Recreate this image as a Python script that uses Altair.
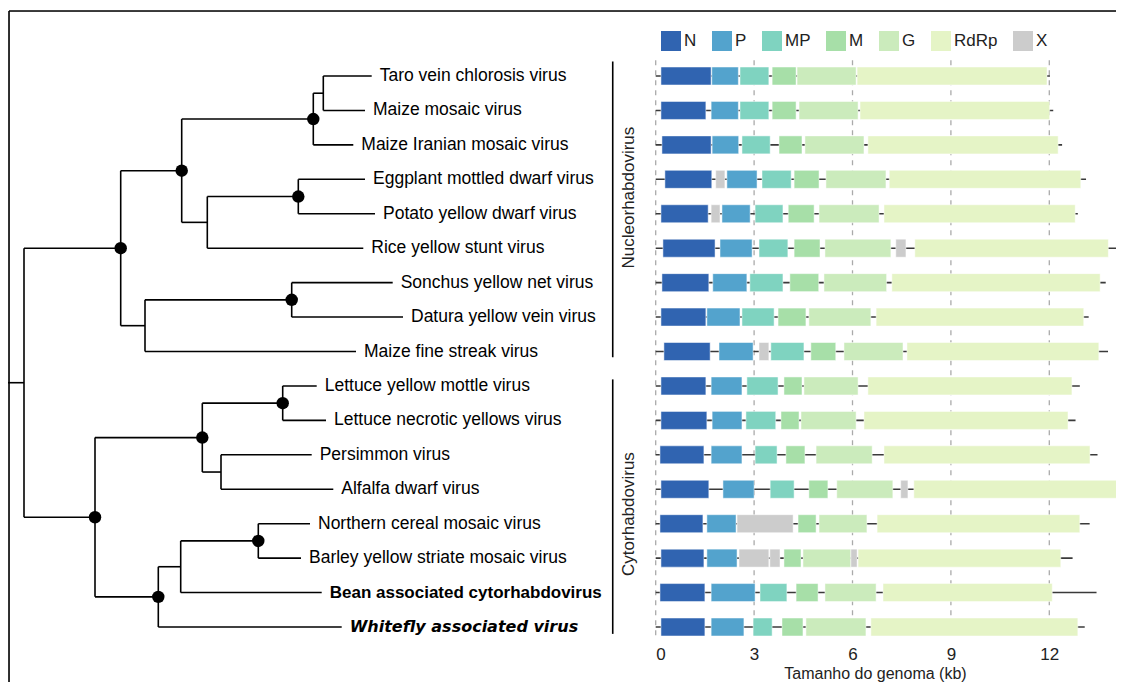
import altair as alt
import pandas as pd

# ---------------- data ----------------
TIPS = [
    "Taro vein chlorosis virus", "Maize mosaic virus", "Maize Iranian mosaic virus",
    "Eggplant mottled dwarf virus", "Potato yellow dwarf virus", "Rice yellow stunt virus",
    "Sonchus yellow net virus", "Datura yellow vein virus", "Maize fine streak virus",
    "Lettuce yellow mottle virus", "Lettuce necrotic yellows virus", "Persimmon virus",
    "Alfalfa dwarf virus", "Northern cereal mosaic virus", "Barley yellow striate mosaic virus",
    "Bean associated cytorhabdovirus", "Whitefly associated virus",
]
TIP_PARENT = ["F", "F", "D", "G", "G", "E", "H", "H", "C", "L", "L", "M", "M", "O", "O", "N", "K"]
TIP_DEPTH = [3.477, 3.41, 3.293, 3.41, 3.51, 3.393, 3.687, 3.79, 3.32,
             2.927, 3.02, 2.877, 3.093, 2.86, 2.77, 2.977, 3.177]

NODE_NAMES = ["root", "A", "B", "D", "F", "E", "G", "C", "H", "I", "J", "L", "M", "K", "N", "O"]
NODE_PARENT = [None, "root", "A", "B", "D", "B", "E", "A", "C", "root", "I", "J", "J", "I", "K", "N"]
NODE_DEPTH = [0.0, 0.967, 1.577, 2.893, 2.993, 1.833, 2.743, 1.21, 2.677,
              0.71, 1.783, 2.587, 1.97, 1.343, 1.567, 2.343]
SUPPORTED = ["A", "B", "D", "G", "H", "I", "J", "L", "K", "O"]
ROOT_STEM = -0.16

GENOME_LEN = [12.02, 12.12, 12.39, 13.12, 12.87, 14.05, 13.72, 13.20, 13.79,
              12.93, 12.80, 13.47, 14.40, 13.23, 12.71, 13.44, 13.08]

GENE_ORDER = ["N", "P", "MP", "M", "G", "RdRp", "X"]
GENE_COLORS = ["#3064b1", "#53a3cd", "#7fd3c0", "#a7dfa8", "#cbebbc", "#e5f4c6", "#cccccc"]

ORF_GENES = [
    ["N", "P", "MP", "M", "G", "RdRp"],
    ["N", "P", "MP", "M", "G", "RdRp"],
    ["N", "P", "MP", "M", "G", "RdRp"],
    ["N", "X", "P", "MP", "M", "G", "RdRp"],
    ["N", "X", "P", "MP", "M", "G", "RdRp"],
    ["N", "P", "MP", "M", "G", "X", "RdRp"],
    ["N", "P", "MP", "M", "G", "RdRp"],
    ["N", "P", "MP", "M", "G", "RdRp"],
    ["N", "P", "X", "MP", "M", "G", "RdRp"],
    ["N", "P", "MP", "M", "G", "RdRp"],
    ["N", "P", "MP", "M", "G", "RdRp"],
    ["N", "P", "MP", "M", "G", "RdRp"],
    ["N", "P", "MP", "M", "G", "X", "RdRp"],
    ["N", "P", "X", "M", "G", "RdRp"],
    ["N", "P", "X", "X", "M", "G", "X", "RdRp"],
    ["N", "P", "MP", "M", "G", "RdRp"],
    ["N", "P", "MP", "M", "G", "RdRp"],
]
ORF_START = [
    [0.16, 1.71, 2.57, 3.55, 4.31, 6.14],
    [0.16, 1.69, 2.57, 3.55, 4.37, 6.23],
    [0.19, 1.72, 2.63, 3.76, 4.55, 6.47],
    [0.28, 1.83, 2.17, 3.24, 4.22, 5.19, 7.12],
    [0.16, 1.69, 2.02, 3.03, 4.04, 4.98, 6.96],
    [0.22, 1.96, 3.15, 4.22, 5.16, 7.32, 7.90],
    [0.19, 1.74, 2.87, 4.09, 5.13, 7.20],
    [0.16, 1.56, 2.63, 3.73, 4.67, 6.72],
    [0.25, 1.93, 3.15, 3.51, 4.73, 5.74, 7.66],
    [0.16, 1.69, 2.78, 3.91, 4.52, 6.47],
    [0.16, 1.72, 2.75, 3.82, 4.43, 6.35],
    [0.13, 1.69, 3.03, 3.97, 4.89, 6.96],
    [0.16, 2.05, 3.49, 4.67, 5.52, 7.47, 7.87],
    [0.13, 1.56, 2.48, 4.34, 4.98, 6.75],
    [0.16, 1.56, 2.54, 3.48, 3.91, 4.49, 5.95, 6.17],
    [0.13, 1.69, 3.18, 4.28, 5.16, 6.93],
    [0.16, 1.69, 2.97, 3.85, 4.58, 6.56],
]
ORF_END = [
    [1.69, 2.52, 3.45, 4.28, 6.11, 11.93],
    [1.53, 2.52, 3.45, 4.28, 6.17, 12.01],
    [1.69, 2.53, 3.49, 4.46, 6.35, 12.27],
    [1.71, 2.11, 3.09, 4.13, 4.98, 7.02, 12.96],
    [1.60, 1.96, 2.88, 3.88, 4.83, 6.81, 12.79],
    [1.81, 2.94, 4.03, 5.01, 7.17, 7.63, 13.80],
    [1.62, 2.78, 3.88, 4.97, 7.04, 13.55],
    [1.53, 2.57, 3.61, 4.58, 6.56, 13.05],
    [1.66, 2.97, 3.45, 4.52, 5.49, 7.54, 13.51],
    [1.53, 2.63, 3.73, 4.46, 6.17, 12.69],
    [1.56, 2.63, 3.66, 4.37, 6.11, 12.57],
    [1.47, 2.63, 3.70, 4.55, 6.60, 13.24],
    [1.62, 3.00, 4.22, 5.25, 7.23, 7.69, 14.16],
    [1.44, 2.45, 4.19, 4.89, 6.44, 12.93],
    [1.47, 2.48, 3.45, 3.79, 4.43, 5.95, 6.14, 12.35],
    [1.50, 3.03, 4.00, 4.95, 6.72, 12.09],
    [1.50, 2.69, 3.55, 4.49, 6.41, 12.87],
]

GROUPS = ["Nucleorhabdovirus", "Cytorhabdovirus"]
GROUP_TOP = [-0.42, 8.81]
GROUP_BOTTOM = [8.17, 16.2]
GROUP_LABEL_ROW = [3.53, 12.72]
KB_TICKS = [0, 3, 6, 9, 12]
GRID_TOP, GRID_BOTTOM = -0.46, 16.38

# ---------------- tree layout (y from tip order) ----------------
children = {n: [] for n in NODE_NAMES}
depth = dict(zip(NODE_NAMES, NODE_DEPTH))
parent = dict(zip(NODE_NAMES, NODE_PARENT))
for t, p, d in zip(TIPS, TIP_PARENT, TIP_DEPTH):
    children[p].append(t)
    depth[t] = d
    parent[t] = p
for n, p in zip(NODE_NAMES, NODE_PARENT):
    if p is not None:
        children[p].append(n)

ypos = {t: i for i, t in enumerate(TIPS)}


def node_y(n):
    if n in ypos:
        return ypos[n]
    ys = [node_y(c) for c in children[n]]
    ypos[n] = (min(ys) + max(ys)) / 2
    return ypos[n]


node_y("root")

edges = []
for n in list(NODE_NAMES) + TIPS:
    p = parent[n]
    if p is not None:
        edges.append({"x": depth[p], "x2": depth[n], "y": ypos[n], "y2": ypos[n]})
for n in NODE_NAMES:
    cy = [ypos[c] for c in children[n]]
    edges.append({"x": depth[n], "x2": depth[n], "y": min(cy), "y2": max(cy)})
edges.append({"x": ROOT_STEM, "x2": 0.0, "y": ypos["root"], "y2": ypos["root"]})
edges_df = pd.DataFrame(edges)

dots_df = pd.DataFrame({"x": [depth[n] for n in SUPPORTED], "y": [ypos[n] for n in SUPPORTED]})
tips_df = pd.DataFrame({"name": TIPS, "x": TIP_DEPTH, "y": list(range(len(TIPS)))})

rows = []
for i, (gs, ss, es) in enumerate(zip(ORF_GENES, ORF_START, ORF_END)):
    for g, s, e in zip(gs, ss, es):
        rows.append({"virus": TIPS[i], "row": i, "gene": g, "start": s, "end": e})
orf_df = pd.DataFrame(rows)
backbone_df = pd.DataFrame({"row": list(range(len(TIPS))), "start": 0.0, "end": GENOME_LEN})
grid_df = pd.DataFrame({"kb": KB_TICKS, "y": GRID_TOP, "y2": GRID_BOTTOM})
group_df = pd.DataFrame({"group": GROUPS, "top": GROUP_TOP, "bottom": GROUP_BOTTOM,
                         "mid": GROUP_LABEL_ROW, "x": -1.31, "xl": -0.81})

# ---------------- scales ----------------
W, H = 1107, 671
FONT = "Liberation Sans"
KB_PX = 32.8
KB0 = 646.7
KB_MAX = 13.37
KB_SCALE = alt.Scale(domain=[0, KB_MAX], range=[KB0, KB0 + KB_MAX * KB_PX],
                     nice=False, zero=False, padding=0)
TREE_SCALE = alt.Scale(domain=[0, 1], range=[15, 115], nice=False, zero=False, padding=0)
Y_SCALE = alt.Scale(domain=[0, 16], range=[65, 616], nice=False, zero=False, padding=0)
KB_AXIS = alt.Axis(values=KB_TICKS, grid=False, domain=False, ticks=False, tickSize=0,
                   offset=-38, labelPadding=2, labelFontSize=17, labelFont=FONT,
                   labelColor="#222", titleFontSize=16, titleFont=FONT, titleColor="#222",
                   titleFontWeight="normal", titlePadding=3)
KB_TITLE = "Tamanho do genoma (kb)"


def kx(f):
    return alt.X(f, type="quantitative", scale=KB_SCALE, axis=KB_AXIS, title=KB_TITLE)


def tx(f):
    return alt.X(f, type="quantitative", scale=TREE_SCALE, axis=None)


def yy(f):
    return alt.Y(f, type="quantitative", scale=Y_SCALE, axis=None)


# ---------------- frame (top and left edges; the others fall outside the window) ----------------
frame_top = alt.Chart(pd.DataFrame({"k": [0]})).mark_rule(color="black", strokeWidth=1.6).encode(
    x=alt.value(0), x2=alt.value(W), y=alt.value(0))
frame_left = alt.Chart(pd.DataFrame({"k": [0]})).mark_rule(color="black", strokeWidth=1.6).encode(
    x=alt.value(0), y=alt.value(0), y2=alt.value(H))

# ---------------- tree ----------------
TIP_FS = 17.5
tree_edges = alt.Chart(edges_df).mark_rule(color="black", strokeWidth=1.6).encode(
    x=tx("x"), x2="x2", y=yy("y"), y2="y2")
tree_dots = alt.Chart(dots_df).mark_circle(color="black", opacity=1, size=155).encode(
    x=tx("x"), y=yy("y"))
normal_tips = TIPS[:-2]
tip_text = alt.Chart(tips_df).transform_filter(
    alt.FieldOneOfPredicate(field="name", oneOf=normal_tips)
).mark_text(align="left", baseline="middle", dx=8, fontSize=TIP_FS, font=FONT, color="black").encode(
    x=tx("x"), y=yy("y"), text="name:N")
tip_bold = alt.Chart(tips_df).transform_filter(
    alt.datum.name == TIPS[-2]
).mark_text(align="left", baseline="middle", dx=8, fontSize=17, font=FONT, color="black",
            fontWeight="bold").encode(x=tx("x"), y=yy("y"), text="name:N")
tip_bi = alt.Chart(tips_df).transform_filter(
    alt.datum.name == TIPS[-1]
).mark_text(align="left", baseline="middle", dx=8, fontSize=16, font="DejaVu Sans", color="black",
            fontWeight="bold", fontStyle="italic").encode(x=tx("x"), y=yy("y"), text="name:N")
tree = alt.layer(frame_top, frame_left, tree_edges, tree_dots, tip_text, tip_bold, tip_bi)

# ---------------- genomes ----------------
grid = alt.Chart(grid_df).mark_rule(color="#aaaaaa", strokeWidth=1.3, strokeDash=[5, 5]).encode(
    x=kx("kb"), y=yy("y"), y2="y2")
backbone = alt.Chart(backbone_df).mark_rule(color="#3a3a3a", strokeWidth=1.6).encode(
    x=kx("start"), x2="end", y=yy("row"))
boxes = alt.Chart(orf_df).mark_bar(size=18, orient="horizontal", stroke="white", strokeWidth=0.5).encode(
    x=kx("start"), x2="end", y=yy("row"),
    color=alt.Color("gene:N", scale=alt.Scale(domain=GENE_ORDER, range=GENE_COLORS),
                    legend=alt.Legend(orient="none", legendX=652, legendY=20, direction="horizontal",
                                      title=None, symbolType="square", symbolSize=400,
                                      symbolStrokeWidth=0, symbolOpacity=1, labelFontSize=17,
                                      labelFont=FONT, labelColor="#222", columnPadding=15,
                                      labelOffset=3, padding=0)),
)
brackets = alt.Chart(group_df).mark_rule(color="black", strokeWidth=1.6).encode(
    x=kx("x"), y=yy("top"), y2="bottom")
group_text = alt.Chart(group_df).mark_text(angle=270, align="center", baseline="middle",
                                           fontSize=17, font=FONT, color="#222").encode(
    x=kx("xl"), y=yy("mid"), text="group:N")
genome = alt.layer(grid, backbone, boxes, brackets, group_text)

chart = alt.layer(tree, genome).resolve_scale(x="independent").properties(
    width=W, height=H,
    padding={"left": 1, "top": 3, "right": 0, "bottom": 0},
    autosize=alt.AutoSizeParams(type="none"),
).configure_view(strokeWidth=0).configure(font=FONT)

chart.save("out.html", embed_options={"renderer": "svg", "actions": False})
